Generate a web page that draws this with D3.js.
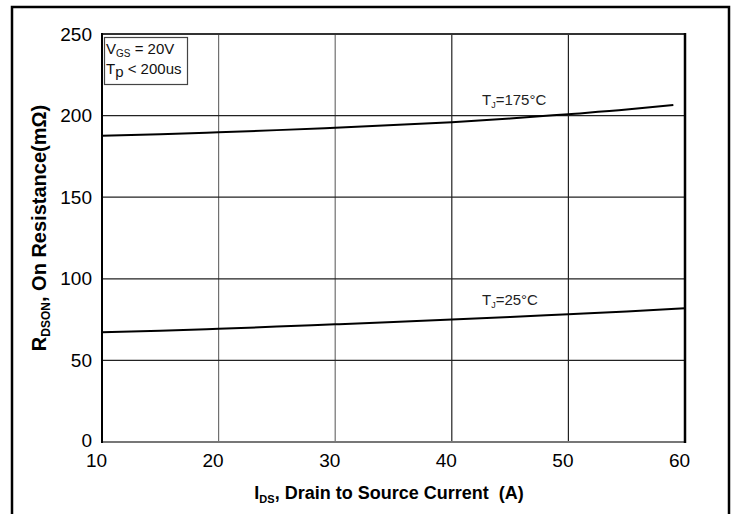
<!DOCTYPE html>
<html>
<head>
<meta charset="utf-8">
<script src="https://cdn.jsdelivr.net/npm/d3@7"></script>
<style>
  html, body { margin: 0; padding: 0; background: #fff; }
  svg { display: block; font-family: "Liberation Sans", Arial, sans-serif; }
</style>
</head>
<body>
<svg id="chart" width="732" height="514"></svg>
<script>
// Drain current (A) sample points for each curve
const currentHot = [10, 15, 20, 25, 30, 35, 40, 45, 50, 55, 59];
const rdsonHot = [187.6, 188.6, 189.8, 191.1, 192.6, 194.2, 196.0, 198.2, 200.9, 203.7, 206.5];

const currentCold = [10, 15, 20, 25, 30, 35, 40, 45, 50, 55, 60];
const rdsonCold = [67.2, 68.2, 69.4, 70.7, 72.1, 73.5, 75.0, 76.6, 78.3, 80.0, 81.9];

const xTicks = [10, 20, 30, 40, 50, 60];
const yTicks = [0, 50, 100, 150, 200, 250];

const svg = d3.select("#chart");
const plotL = 102, plotR = 685, plotT = 34, plotB = 442;

const x = d3.scaleLinear().domain([10, 60]).range([plotL, plotR]);
const y = d3.scaleLinear().domain([0, 250]).range([plotB, plotT]);

// outer frame
svg.append("rect")
  .attr("x", 12).attr("y", 7).attr("width", 717).attr("height", 520)
  .attr("fill", "none").attr("stroke", "#000").attr("stroke-width", 2.5);

// grid
const grid = svg.append("g");
grid.selectAll("line.v").data(xTicks.slice(1, -1)).join("line")
  .attr("x1", d => x(d)).attr("x2", d => x(d))
  .attr("y1", plotT).attr("y2", plotB)
  .attr("stroke", d => d < 35 ? "#707070" : "#222")
  .attr("stroke-width", 1.2);
grid.selectAll("line.h").data(yTicks.slice(1, -1)).join("line")
  .attr("x1", plotL).attr("x2", plotR)
  .attr("y1", d => y(d)).attr("y2", d => y(d))
  .attr("stroke", "#222").attr("stroke-width", 1.2);

// plot border
svg.append("line").attr("x1", plotL).attr("x2", plotR).attr("y1", plotT).attr("y2", plotT)
  .attr("stroke", "#333").attr("stroke-width", 2);
svg.append("line").attr("x1", plotL).attr("x2", plotR).attr("y1", plotB).attr("y2", plotB)
  .attr("stroke", "#777").attr("stroke-width", 2);
svg.append("line").attr("x1", plotL).attr("x2", plotL).attr("y1", plotT - 1).attr("y2", plotB + 1)
  .attr("stroke", "#000").attr("stroke-width", 2);
svg.append("line").attr("x1", plotR).attr("x2", plotR).attr("y1", plotT - 1).attr("y2", plotB + 1)
  .attr("stroke", "#000").attr("stroke-width", 2.5);

// axes (labels only)
const yAxis = svg.append("g").attr("transform", `translate(${plotL},0)`)
  .call(d3.axisLeft(y).tickValues(yTicks).tickSize(0).tickPadding(10));
yAxis.select(".domain").remove();
yAxis.selectAll("text").attr("font-size", 19).attr("fill", "#000")
  .attr("font-family", "Liberation Sans, Arial, sans-serif")
  .attr("dy", d => d === 0 ? "0.25em" : "0.32em");

const xAxis = svg.append("g").attr("transform", `translate(-6,${plotB})`)
  .call(d3.axisBottom(x).tickValues(xTicks).tickSize(0).tickPadding(12));
xAxis.select(".domain").remove();
xAxis.selectAll("text").attr("font-size", 19).attr("fill", "#000")
  .attr("font-family", "Liberation Sans, Arial, sans-serif");

// curves
const line = d3.line().curve(d3.curveMonotoneX).x(d => x(d[0])).y(d => y(d[1]));
svg.append("path")
  .datum(d3.zip(currentHot, rdsonHot))
  .attr("d", line).attr("fill", "none").attr("stroke", "#000").attr("stroke-width", 2);
svg.append("path")
  .datum(d3.zip(currentCold, rdsonCold))
  .attr("d", line).attr("fill", "none").attr("stroke", "#000").attr("stroke-width", 2);

// curve labels
function tjLabel(px, py, rest) {
  const t = svg.append("text").attr("x", px).attr("y", py)
    .attr("font-size", 15).attr("fill", "#222");
  t.append("tspan").text("T");
  t.append("tspan").attr("font-size", 9).attr("dy", 3).text("J");
  t.append("tspan").attr("dy", -3).text(rest);
}
tjLabel(482, 105, "=175°C");
tjLabel(482, 305, "=25°C");

// conditions box
svg.append("rect").attr("x", 104.5).attr("y", 37.5).attr("width", 83).attr("height", 47)
  .attr("fill", "#fff").attr("stroke", "#444").attr("stroke-width", 1.2);
const c1 = svg.append("text").attr("x", 106).attr("y", 54).attr("font-size", 15).attr("fill", "#111");
c1.append("tspan").text("V");
c1.append("tspan").attr("font-size", 10).attr("dy", 3).text("GS");
c1.append("tspan").attr("dy", -3).text(" = 20V");
const c2 = svg.append("text").attr("x", 106).attr("y", 74).attr("font-size", 15).attr("fill", "#111");
c2.append("tspan").text("T");
c2.append("tspan").attr("font-size", 15).attr("dy", 3).text("p");
c2.append("tspan").attr("dy", -3).text(" < 200us");

// axis titles
const xt = svg.append("text").attr("x", 389).attr("y", 499).attr("text-anchor", "middle")
  .attr("font-size", 18).attr("font-weight", "bold").attr("fill", "#000");
xt.append("tspan").text("I");
xt.append("tspan").attr("font-size", 11).attr("dy", 4).text("DS");
xt.append("tspan").attr("dy", -4).text(", Drain to Source Current \u00a0(A)");

const yt = svg.append("text").attr("transform", "translate(46,228) rotate(-90)")
  .attr("text-anchor", "middle")
  .attr("font-size", 20).attr("font-weight", "bold").attr("fill", "#000");
yt.append("tspan").text("R");
yt.append("tspan").attr("font-size", 12).attr("dy", 4).text("DSON");
yt.append("tspan").attr("dy", -4).text(", On Resistance(mΩ)");
</script>
</body>
</html>
